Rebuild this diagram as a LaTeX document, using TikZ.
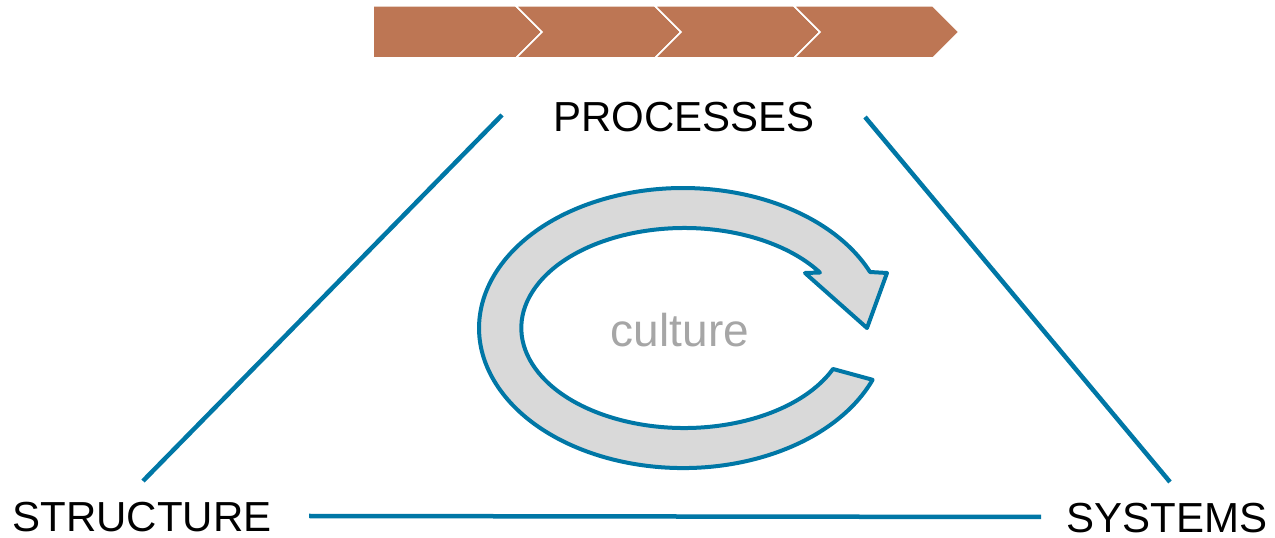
\documentclass[tikz,border=0pt]{standalone}
\usepackage{fontspec}
\setmainfont{Liberation Sans}
\usetikzlibrary{positioning}
\definecolor{chevbrown}{RGB}{189,118,84}
\definecolor{linkblue}{RGB}{0,119,166}
\definecolor{loopgray}{RGB}{217,217,217}
\definecolor{textgray}{RGB}{166,166,166}

\begin{document}
\begin{tikzpicture}[x=1pt,y=1pt,
    corner/.style={font=\fontsize{42}{48}\selectfont,inner sep=0pt},
    link/.style={draw=linkblue,line width=4.5pt},
    chev/.style={fill=chevbrown,draw=white,line width=1.5pt,line join=miter},
    cycle arrow/.style={fill=loopgray,draw=linkblue,line width=4pt,line join=round}]
    \useasboundingbox (0,0) rectangle (1275,538);
    % process chevrons
    \draw[chev] (373,532) -- (516,532) -- (542,506) -- (516,480) -- (373,480) -- cycle;
    \foreach \i in {0,1,2} {
        \pgfmathsetmacro{\xa}{516+139*\i}
        \pgfmathsetmacro{\xb}{655+139*\i}
        \draw[chev] (\xa,532) -- (\xb,532) -- (\xb+26,506) -- (\xb,480) -- (\xa,480) -- (\xa+26,506) -- cycle;
    }
    % labels
    \node[corner] (proc) at (684,421) {PROCESSES};
    \node[corner] (struct) at (142,21) {STRUCTURE};
    \node[corner] (sys) at (1167,20) {SYSTEMS};
    \coordinate (procL) at (502,423);
    \coordinate (procR) at (865,421);
    \coordinate (structT) at (143,57);
    \coordinate (structR) at (309,22);
    \coordinate (sysT) at (1170,56);
    \coordinate (sysL) at (1041,21);
    \path[link] (procL) edge (structT)
                (procR) edge (sysT)
                (structR) edge (sysL);
    % culture loop
    \draw[cycle arrow] (870,266) arc[start angle=23.6,end angle=338.3,x radius=204,y radius=140]
        -- (833,169) arc[start angle=335.8,end angle=33.7,x radius=163,y radius=100]
        -- (805,265) -- (867,210) -- (887,265) -- cycle;
    \node[font=\fontsize{46}{50}\selectfont,text=textgray,inner sep=0pt] (cult) at (680,208) {culture};
\end{tikzpicture}
\end{document}
